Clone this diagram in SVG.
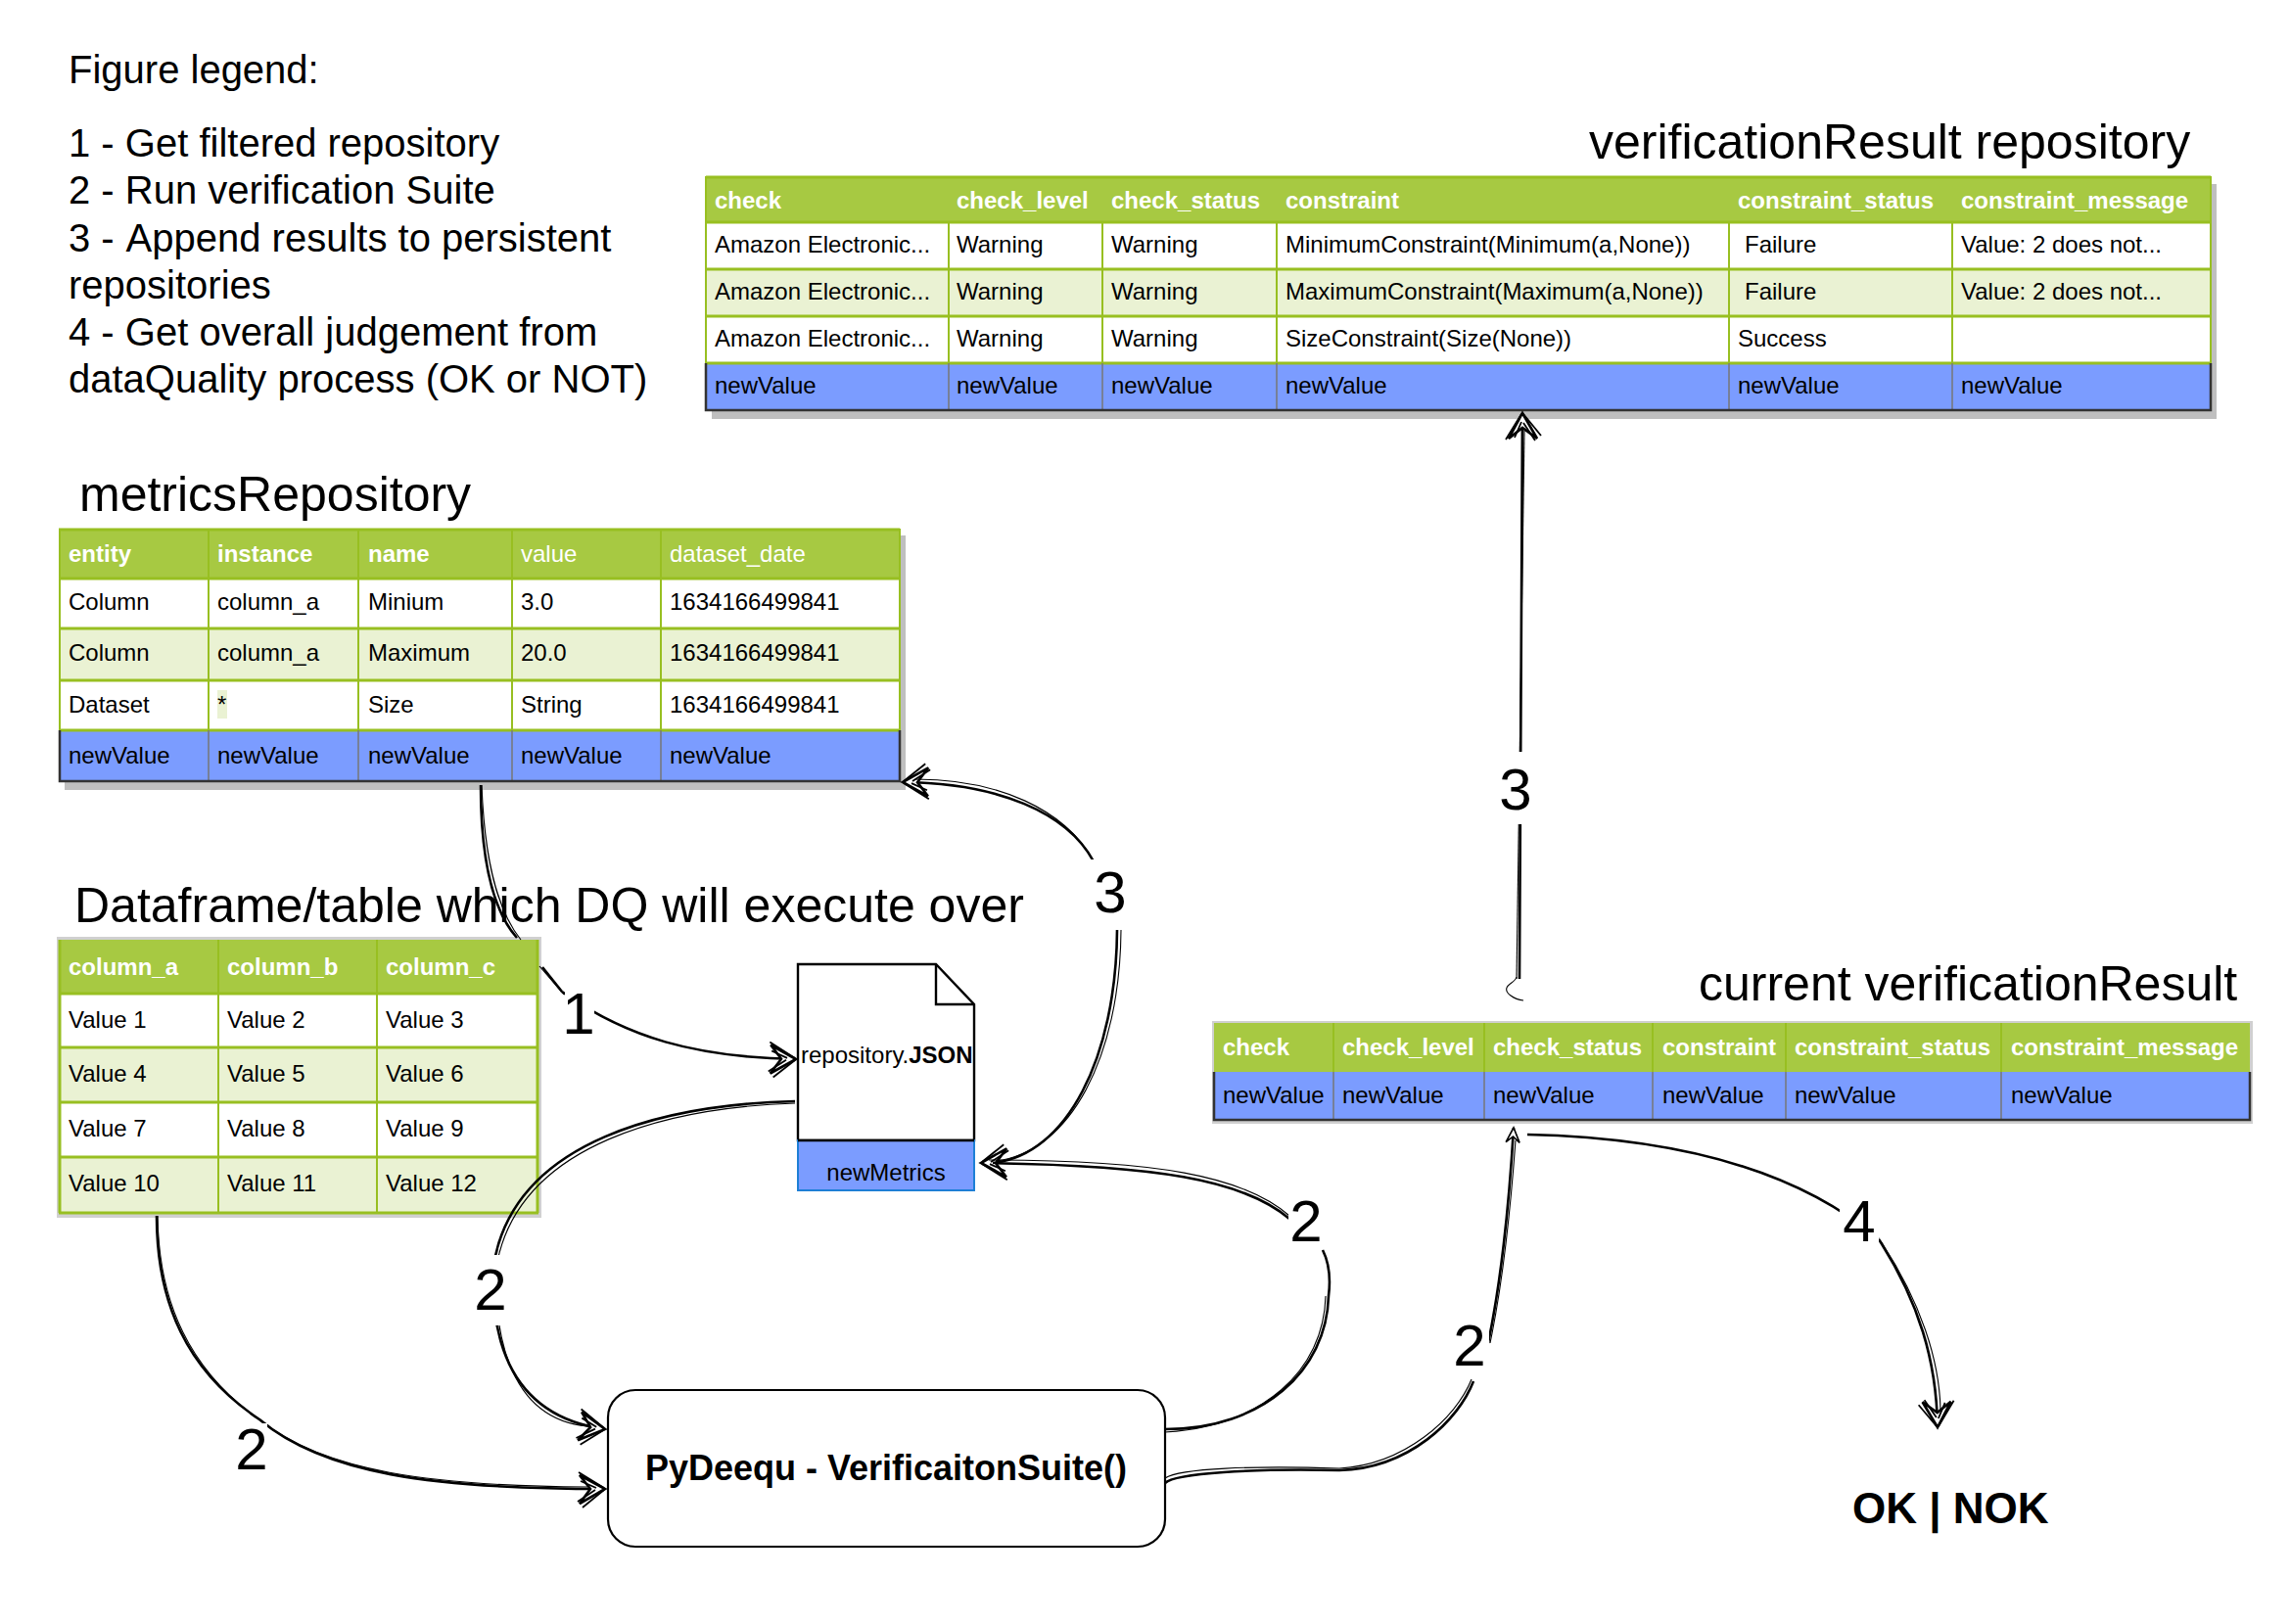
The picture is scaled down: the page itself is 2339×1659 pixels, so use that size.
<svg xmlns="http://www.w3.org/2000/svg" width="2339" height="1659" viewBox="0 0 2339 1659">
<style>
text{font-family:"Liberation Sans",Arial,sans-serif;fill:#000}
.leg{font-size:40px}.ttl{font-size:50px}.c{font-size:24px}
.h{font-size:24px;font-weight:bold;fill:#fff}.hn{font-size:24px;fill:#fff}
.lb{font-size:60px;text-anchor:middle}.bg{fill:#fff}
.hd{fill:#A7C942}.alt{fill:#EAF2D3}.wh{fill:#fff}.bl{fill:#7B9CFF}.sh{fill:#bfbfbf}.sl{fill:#d0d0d0}
.g{stroke:#98BF21;stroke-width:2;fill:none}.g3{stroke:#98BF21;stroke-width:3;fill:none}.gy{stroke:#777;stroke-width:1.5;fill:none}.dk{stroke:#333;stroke-width:2.5;fill:none}
.m{fill:none;stroke:#000;stroke-width:2.6}.s{fill:none;stroke:#000;stroke-width:1.1}
.a{marker-end:url(#head)}.as{marker-end:url(#headS)}
</style>
<defs>
<marker id="head" markerUnits="userSpaceOnUse" viewBox="-34 -24 38 48" refX="0" refY="0" markerWidth="38" markerHeight="48" orient="auto" overflow="visible">
<path d="M-26 -14L0 0L-26 15L-15 0Z" fill="#fff" stroke="#000" stroke-width="2.6"/>
<path d="M-27 -17L-1 -1M-23 19L-1 1M-28 13L-10 1M-25 -8L-9 -1" fill="none" stroke="#000" stroke-width="1.8"/>
</marker>
<marker id="headS" markerUnits="userSpaceOnUse" viewBox="-20 -12 24 24" refX="0" refY="0" markerWidth="24" markerHeight="24" orient="auto" overflow="visible">
<path d="M-15 -7L0 0L-15 7L-9 0Z" fill="#fff" stroke="#000" stroke-width="1.6"/>
</marker>
</defs>
<rect width="2339" height="1659" fill="#fff"/>

<g id="legend">
<text class="leg" x="70" y="85">Figure legend:</text>
<text class="leg" x="70" y="160">1 - Get filtered repository</text>
<text class="leg" x="70" y="208">2 - Run verification Suite</text>
<text class="leg" x="70" y="257">3 - <tspan dx="3">Append results to persistent</tspan></text>
<text class="leg" x="70" y="305">repositories</text>
<text class="leg" x="70" y="353">4 - Get overall judgement from</text>
<text class="leg" x="70" y="401">dataQuality process (OK or NOT)</text>
</g>

<g id="verification-repository">
<text class="ttl" x="1623" y="162">verificationResult repository</text>
<rect class="sh" x="727" y="188" width="1537" height="240"/>
<rect class="hd" x="721" y="180" width="1537" height="47"/>
<rect class="wh" x="721" y="227" width="1537" height="48"/>
<rect class="alt" x="721" y="275" width="1537" height="48"/>
<rect class="wh" x="721" y="323" width="1537" height="48"/>
<rect class="bl" x="721" y="371" width="1537" height="48"/>
<path class="g" d="M721 180V371M2258 180V371M969 227V371M1126 227V371M1304 227V371M1766 227V371M1994 227V371"/>
<path class="g3" d="M721 181H2258M721 227H2258M721 275H2258M721 323H2258M721 371H2258"/>
<path class="gy" d="M969 371V419M1126 371V419M1304 371V419M1766 371V419M1994 371V419"/>
<path class="dk" d="M721 371V419H2258V371"/>
<text class="h" x="730" y="213">check</text><text class="h" x="977" y="213">check_level</text><text class="h" x="1135" y="213">check_status</text><text class="h" x="1313" y="213">constraint</text><text class="h" x="1775" y="213">constraint_status</text><text class="h" x="2003" y="213">constraint_message</text>
<text class="c" x="730" y="258">Amazon Electronic...</text><text class="c" x="977" y="258">Warning</text><text class="c" x="1135" y="258">Warning</text><text class="c" x="1313" y="258">MinimumConstraint(Minimum(a,None))</text><text class="c" x="1782" y="258">Failure</text><text class="c" x="2003" y="258">Value: 2 does not...</text>
<text class="c" x="730" y="306">Amazon Electronic...</text><text class="c" x="977" y="306">Warning</text><text class="c" x="1135" y="306">Warning</text><text class="c" x="1313" y="306">MaximumConstraint(Maximum(a,None))</text><text class="c" x="1782" y="306">Failure</text><text class="c" x="2003" y="306">Value: 2 does not...</text>
<text class="c" x="730" y="354">Amazon Electronic...</text><text class="c" x="977" y="354">Warning</text><text class="c" x="1135" y="354">Warning</text><text class="c" x="1313" y="354">SizeConstraint(Size(None))</text><text class="c" x="1775" y="354">Success</text>
<text class="c" x="730" y="402">newValue</text><text class="c" x="977" y="402">newValue</text><text class="c" x="1135" y="402">newValue</text><text class="c" x="1313" y="402">newValue</text><text class="c" x="1775" y="402">newValue</text><text class="c" x="2003" y="402">newValue</text>
</g>

<g id="metrics-repository">
<text class="ttl" x="81" y="522">metricsRepository</text>
<rect class="sh" x="66" y="547" width="859" height="260"/>
<rect class="hd" x="60" y="540" width="859" height="51"/>
<rect class="wh" x="60" y="591" width="859" height="51"/>
<rect class="alt" x="60" y="642" width="859" height="53"/>
<rect class="wh" x="60" y="695" width="859" height="51"/>
<rect class="bl" x="60" y="746" width="859" height="52"/>
<path class="g" d="M61 540V746M919 540V746M213 540V746M366 540V746M523 540V746M675 540V746"/>
<path class="g3" d="M60 541H919M60 591H919M60 642H919M60 695H919M60 746H919"/>
<path class="gy" d="M213 746V798M366 746V798M523 746V798M675 746V798"/>
<path class="dk" d="M61 746V798H919V746"/>
<text class="h" x="70" y="574">entity</text><text class="h" x="222" y="574">instance</text><text class="h" x="376" y="574">name</text><text class="hn" x="532" y="574">value</text><text class="hn" x="684" y="574">dataset_date</text>
<text class="c" x="70" y="623">Column</text><text class="c" x="222" y="623">column_a</text><text class="c" x="376" y="623">Minium</text><text class="c" x="532" y="623">3.0</text><text class="c" x="684" y="623">1634166499841</text>
<text class="c" x="70" y="675">Column</text><text class="c" x="222" y="675">column_a</text><text class="c" x="376" y="675">Maximum</text><text class="c" x="532" y="675">20.0</text><text class="c" x="684" y="675">1634166499841</text>
<rect class="alt" x="222" y="705" width="10" height="29"/>
<text class="c" x="70" y="728">Dataset</text><text class="c" x="222" y="728">*</text><text class="c" x="376" y="728">Size</text><text class="c" x="532" y="728">String</text><text class="c" x="684" y="728">1634166499841</text>
<text class="c" x="70" y="780">newValue</text><text class="c" x="222" y="780">newValue</text><text class="c" x="376" y="780">newValue</text><text class="c" x="532" y="780">newValue</text><text class="c" x="684" y="780">newValue</text>
</g>

<g id="dataframe-table">
<text class="ttl" x="76" y="942">Dataframe/table which DQ will execute over</text>
<rect class="sl" x="58" y="957" width="495" height="287"/>
<rect class="hd" x="60" y="960" width="490" height="55"/>
<rect class="wh" x="60" y="1015" width="490" height="55"/>
<rect class="alt" x="60" y="1070" width="490" height="56"/>
<rect class="wh" x="60" y="1126" width="490" height="56"/>
<rect class="alt" x="60" y="1182" width="490" height="57"/>
<path class="g" d="M223 960V1239M385 960V1239"/>
<path class="g3" d="M61 960V1239M549 960V1239M60 1015H550M60 1070H550M60 1126H550M60 1182H550M60 1239H550"/>
<text class="h" x="70" y="996">column_a</text><text class="h" x="232" y="996">column_b</text><text class="h" x="394" y="996">column_c</text>
<text class="c" x="70" y="1050">Value 1</text><text class="c" x="232" y="1050">Value 2</text><text class="c" x="394" y="1050">Value 3</text>
<text class="c" x="70" y="1105">Value 4</text><text class="c" x="232" y="1105">Value 5</text><text class="c" x="394" y="1105">Value 6</text>
<text class="c" x="70" y="1161">Value 7</text><text class="c" x="232" y="1161">Value 8</text><text class="c" x="394" y="1161">Value 9</text>
<text class="c" x="70" y="1217">Value 10</text><text class="c" x="232" y="1217">Value 11</text><text class="c" x="394" y="1217">Value 12</text>
</g>

<g id="repository-json">
<path d="M815 985H956L995 1026V1165H815Z" fill="#fff" stroke="#000" stroke-width="2.4"/>
<path d="M956 985V1026H995" fill="none" stroke="#000" stroke-width="2.4"/>
<rect x="815" y="1165" width="180" height="51" fill="#7B9CFF" stroke="#1E7FD6" stroke-width="2"/>
<path d="M815 1165H995" stroke="#000" stroke-width="2.6"/>
<text class="c" x="818" y="1086">repository.<tspan font-weight="bold">JSON</tspan></text>
<text class="c" x="905" y="1206" text-anchor="middle">newMetrics</text>
</g>

<g id="pydeequ-suite">
<rect x="621" y="1420" width="569" height="160" rx="28" fill="#fff" stroke="#000" stroke-width="2.2"/>
<text x="905" y="1512" font-size="36" font-weight="bold" text-anchor="middle">PyDeequ - VerificaitonSuite()</text>
</g>

<g id="current-verification">
<text class="ttl" x="1735" y="1022">current verificationResult</text>
<rect class="sl" x="1238" y="1043" width="1063" height="105"/>
<rect class="hd" x="1240" y="1045" width="1058" height="50"/>
<rect class="bl" x="1240" y="1095" width="1058" height="49"/>
<path class="g" d="M1362 1045V1095M1516 1045V1095M1688 1045V1095M1824 1045V1095M2044 1045V1095"/>
<path class="gy" d="M1362 1095V1144M1516 1095V1144M1688 1095V1144M1824 1095V1144M2044 1095V1144"/>
<path class="dk" d="M1240 1095V1144H2298V1095"/>
<text class="h" x="1249" y="1078">check</text><text class="h" x="1371" y="1078">check_level</text><text class="h" x="1525" y="1078">check_status</text><text class="h" x="1698" y="1078">constraint</text><text class="h" x="1833" y="1078">constraint_status</text><text class="h" x="2054" y="1078">constraint_message</text>
<text class="c" x="1249" y="1127">newValue</text><text class="c" x="1371" y="1127">newValue</text><text class="c" x="1525" y="1127">newValue</text><text class="c" x="1698" y="1127">newValue</text><text class="c" x="1833" y="1127">newValue</text><text class="c" x="2054" y="1127">newValue</text>
</g>

<g id="ok-nok">
<text x="1892" y="1556" font-size="44" font-weight="bold">OK | NOK</text>
</g>

<g id="connectors">
<g id="edge-1">
<path class="m" d="M491 802C491 880 503 930 528 958"/>
<path class="s" d="M492 802C495 880 508 930 532 960"/>
<path class="s" d="M551 987L576 1016"/>
<path class="m" d="M554 988L574 1013"/>
<path class="m a" d="M574 1013C640 1060 710 1080 813 1082"/>
<rect class="bg" x="577" y="1000" width="30" height="70"/>
<text class="lb" x="591" y="1056">1</text>
</g>
<g id="edge-2a">
<path class="m a" d="M812 1125C690 1128 520 1160 503 1300C503 1350 510 1445 618 1460"/>
<path class="s" d="M812 1127C695 1131 525 1163 506 1300C506 1350 514 1449 600 1457"/>
<rect class="bg" x="479" y="1282" width="44" height="72"/>
<text class="lb" x="501" y="1338">2</text>
</g>
<g id="edge-2b">
<path class="m a" d="M160 1242C160 1330 190 1400 265 1450C330 1505 440 1521 618 1521"/>
<path class="s" d="M161 1242C162 1330 193 1400 267 1452C332 1503 440 1518 600 1519"/>
<rect class="bg" x="237" y="1454" width="36" height="60"/>
<text class="lb" x="257" y="1501">2</text>
</g>
<g id="edge-2c">
<path class="m" d="M1190 1460C1290 1460 1355 1400 1357 1324C1360 1300 1355 1285 1351 1277"/>
<path class="s" d="M1190 1463C1290 1457 1352 1400 1354 1324"/>
<path class="m a" d="M1317 1245C1270 1205 1180 1190 1002 1188"/>
<path class="s" d="M1317 1242C1270 1201 1180 1185 1010 1185"/>
<rect class="bg" x="1316" y="1214" width="36" height="58"/>
<text class="lb" x="1334" y="1268">2</text>
</g>
<g id="edge-2d">
<path class="m" d="M1190 1515C1200 1505 1280 1500 1368 1502C1440 1500 1490 1450 1505 1411"/>
<path class="s" d="M1190 1510C1205 1500 1280 1497 1368 1500C1435 1496 1487 1449 1503 1409"/>
<path class="m as" d="M1520 1372C1535 1300 1542 1220 1546 1152"/>
<path class="s" d="M1522 1372C1537 1300 1544 1220 1548 1165"/>
<rect class="bg" x="1481" y="1338" width="40" height="70"/>
<text class="lb" x="1501" y="1395">2</text>
</g>
<g id="edge-3a">
<path class="m a" d="M1552 1000C1553 800 1555 600 1555 422"/>
<path class="s" d="M1549 1000C1551 800 1553 600 1557 440"/>
<path class="s" d="M1556 1022C1546 1021 1537 1014 1539 1009C1540 1005 1548 1003 1549 998"/>
<rect class="bg" x="1526" y="768" width="44" height="74"/>
<text class="lb" x="1548" y="827">3</text>
</g>
<g id="edge-3b">
<path class="m" d="M1014 1188C1090 1180 1140 1080 1141 950"/>
<path class="s" d="M1017 1186C1093 1177 1144 1080 1145 950"/>
<path class="m a" d="M1117 880C1090 830 1020 800 922 799"/>
<path class="s" d="M1116 878C1087 827 1020 796 935 796"/>
<rect class="bg" x="1112" y="878" width="44" height="70"/>
<text class="lb" x="1134" y="932">3</text>
</g>
<g id="edge-4">
<path class="m" d="M1560 1159C1700 1162 1830 1190 1919 1266"/>
<path class="m a" d="M1919 1266C1960 1330 1978 1390 1979 1458"/>
<path class="s" d="M1921 1268C1962 1330 1981 1390 1982 1440"/>
<rect class="bg" x="1879" y="1212" width="40" height="64"/>
<text class="lb" x="1899" y="1268">4</text>
</g>
</g>
</svg>
